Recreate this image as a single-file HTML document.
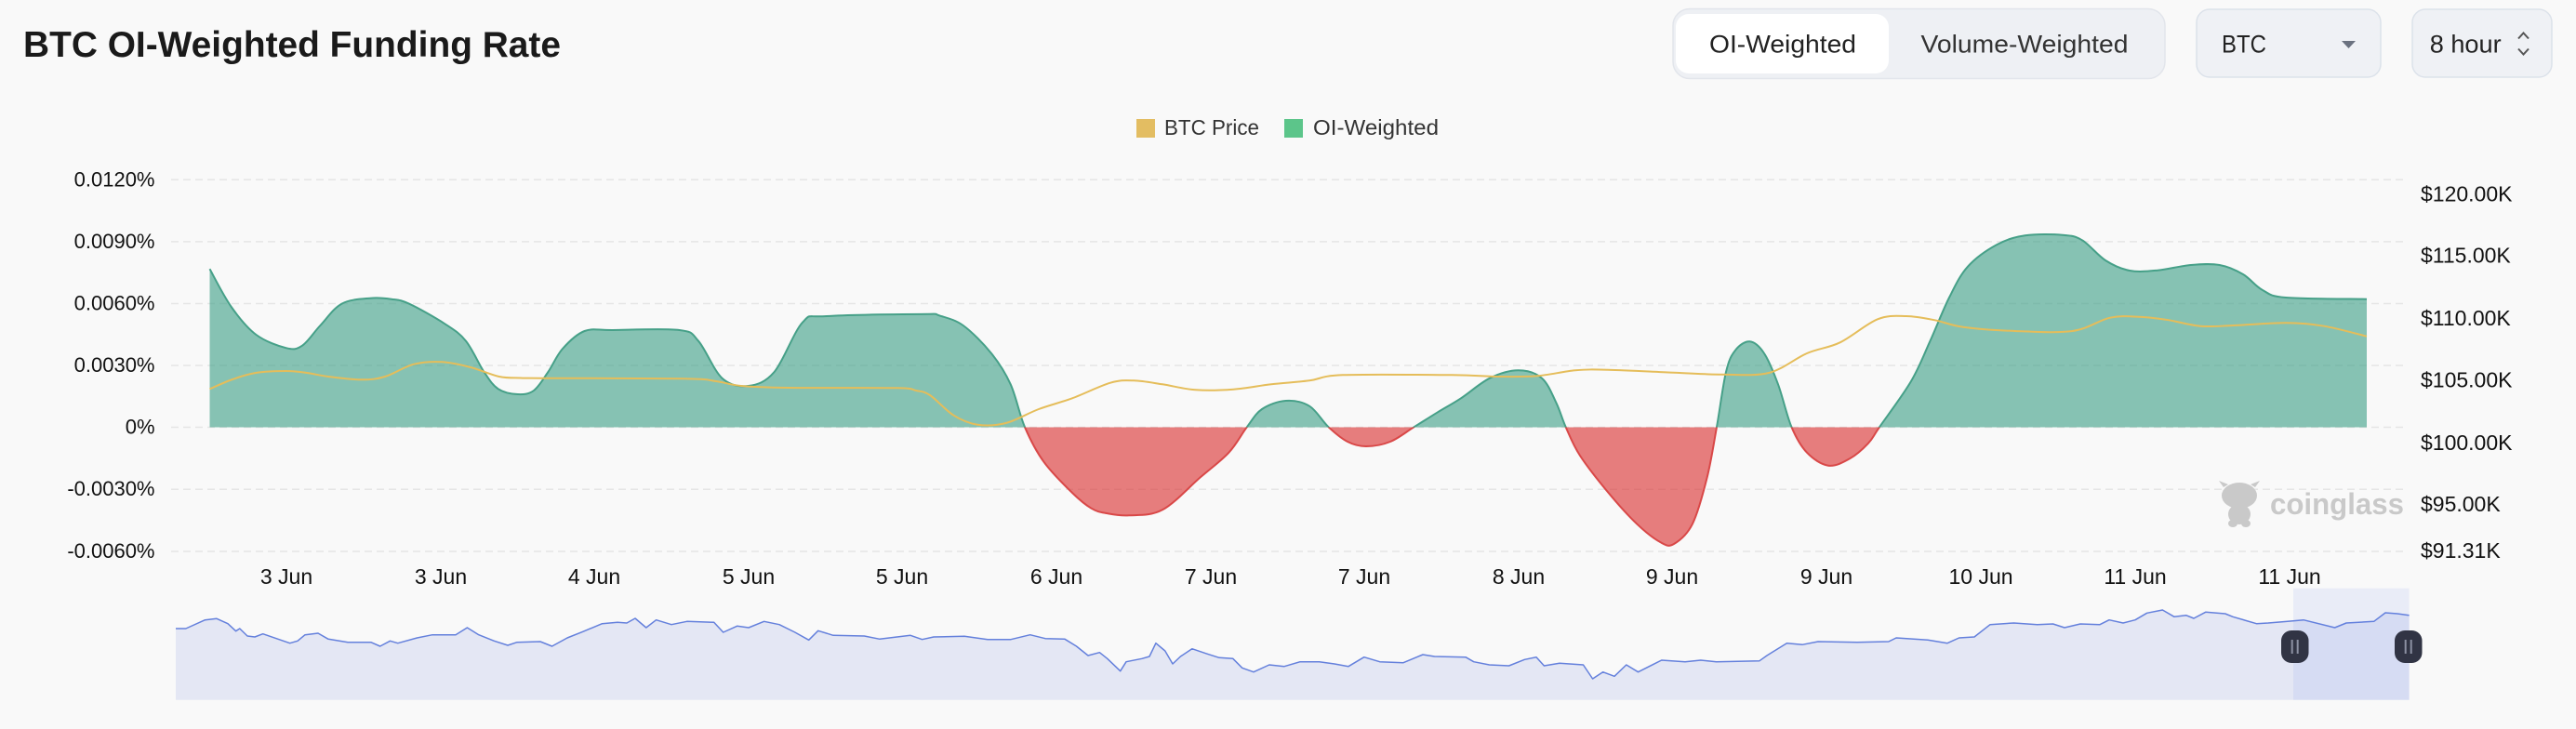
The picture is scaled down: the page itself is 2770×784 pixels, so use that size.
<!DOCTYPE html>
<html>
<head>
<meta charset="utf-8">
<style>
html,body{margin:0;padding:0;background:#f9f9f9;}
body{width:2770px;height:784px;overflow:hidden;}
svg{display:block;font-family:"Liberation Sans",Arial,sans-serif;}
</style>
</head>
<body>
<svg id="chart" width="2770" height="784" viewBox="0 0 2770 784" xmlns="http://www.w3.org/2000/svg">
<defs>
<clipPath id="pos"><rect x="0" y="0" width="2770" height="459.5"/></clipPath>
<clipPath id="neg"><rect x="0" y="459.5" width="2770" height="330"/></clipPath>
</defs>
<rect width="2770" height="784" fill="#f9f9f9"/>

<!-- Title -->
<text x="25" y="61" font-size="39" font-weight="bold" fill="#1a1a1a" textLength="578" lengthAdjust="spacingAndGlyphs">BTC OI-Weighted Funding Rate</text>

<!-- Segmented control -->
<rect x="1799" y="9.5" width="529" height="75" rx="18" fill="#eef0f4" stroke="#e2e5eb" stroke-width="1.5"/>
<rect x="1802" y="15" width="229" height="64" rx="14" fill="#ffffff"/>
<text x="1838" y="56.5" font-size="27" fill="#222" textLength="158" lengthAdjust="spacingAndGlyphs">OI-Weighted</text>
<text x="2065.5" y="56.5" font-size="27" fill="#333" textLength="223" lengthAdjust="spacingAndGlyphs">Volume-Weighted</text>

<!-- BTC select -->
<rect x="2362" y="10" width="198" height="73" rx="14" fill="#eff1f5" stroke="#dce2ea" stroke-width="1.5"/>
<text x="2389" y="56.5" font-size="27" fill="#222" textLength="48" lengthAdjust="spacingAndGlyphs">BTC</text>
<polygon points="2518,44 2533,44 2525.5,52" fill="#6b7280"/>

<!-- 8 hour select -->
<rect x="2594" y="10" width="150" height="73" rx="14" fill="#eff1f5" stroke="#dce2ea" stroke-width="1.5"/>
<text x="2612.7" y="56.5" font-size="27" fill="#222" textLength="77" lengthAdjust="spacingAndGlyphs">8 hour</text>
<polyline points="2708,41.5 2713.5,35.5 2719,41.5" fill="none" stroke="#555" stroke-width="2"/>
<polyline points="2708,52.5 2713.5,58.5 2719,52.5" fill="none" stroke="#555" stroke-width="2"/>

<!-- Legend -->
<rect x="1222" y="128" width="20" height="20" fill="#e3bd62"/>
<text x="1252" y="145" font-size="23" fill="#333" textLength="102" lengthAdjust="spacingAndGlyphs">BTC Price</text>
<rect x="1381" y="128" width="20" height="20" fill="#5cc58a"/>
<text x="1412" y="145" font-size="23" fill="#333" textLength="135" lengthAdjust="spacingAndGlyphs">OI-Weighted</text>

<!-- Grid lines -->
<g stroke="#e5e5e5" stroke-width="1.5" stroke-dasharray="8 5">
<line x1="184" y1="193.3" x2="2586" y2="193.3"/>
<line x1="184" y1="259.9" x2="2586" y2="259.9"/>
<line x1="184" y1="326.5" x2="2586" y2="326.5"/>
<line x1="184" y1="393" x2="2586" y2="393"/>
<line x1="184" y1="459.5" x2="2586" y2="459.5"/>
<line x1="184" y1="526.2" x2="2586" y2="526.2"/>
<line x1="184" y1="593" x2="2586" y2="593"/>
</g>

<!-- Left axis labels -->
<g font-size="22" fill="#111" text-anchor="end">
<text x="166.5" y="200.3">0.0120%</text>
<text x="166.5" y="266.9">0.0090%</text>
<text x="166.5" y="333.5">0.0060%</text>
<text x="166.5" y="400">0.0030%</text>
<text x="166.5" y="466.5">0%</text>
<text x="166.5" y="533.2">-0.0030%</text>
<text x="166.5" y="600">-0.0060%</text>
</g>

<!-- Right axis labels -->
<g font-size="23" fill="#111">
<text x="2603" y="216.7">$120.00K</text>
<text x="2603" y="282.7">$115.00K</text>
<text x="2603" y="350">$110.00K</text>
<text x="2603" y="416.7">$105.00K</text>
<text x="2603" y="484">$100.00K</text>
<text x="2603" y="550">$95.00K</text>
<text x="2603" y="600">$91.31K</text>
</g>

<!-- Watermark -->
<g fill="#c9c9c9">
<ellipse cx="2408" cy="533" rx="19" ry="14"/>
<path d="M2391,524 L2386,517 L2396,521 Z M2425,524 L2430,517 L2420,521 Z"/>
<ellipse cx="2408" cy="553" rx="12" ry="11"/>
<ellipse cx="2401" cy="563" rx="5" ry="4"/>
<ellipse cx="2415" cy="563" rx="5" ry="4"/>
<text x="2441" y="553" font-size="32" font-weight="bold" textLength="144" lengthAdjust="spacingAndGlyphs">coinglass</text>
</g>

<!-- Funding area -->
<g id="fundA">
<polygon class="sm" clip-path="url(#pos)" fill="#389c84" fill-opacity="0.6" points="225.5,459.5 225.5,289.3 248.7,330 275.5,360 308,374.3 325,371.7 344.4,350 367.4,326.7 398,320.7 421,321.7 440,326.7 478.4,348.3 501,366.7 520.5,400 535.8,418.3 556.8,424 574,420 589.4,400 605,375 628.6,356 659,355 730.6,355 751,366.7 776.5,406.7 804.6,415 832.6,400 863,346.7 889,340 1000,337.7 1010,339.3 1035.7,350 1066,380 1086.7,413.3 1102,459.3 1122.4,496.7 1153,530 1173.5,546.7 1190,552 1214,554.3 1250,548.3 1290.8,513.3 1321.4,486.7 1340.8,459.3 1357,440 1382.6,431 1408,436.7 1428.6,459.3 1449,475 1469,480 1495,475 1520.4,459.3 1546,443.3 1571,428.3 1602,406.7 1632.6,398.3 1658,406.7 1673.5,433.3 1683.7,459.3 1699,490 1729.6,530 1760,563.3 1785.7,583.3 1800,585 1820,563.3 1835.7,513.3 1846,459.3 1856,400 1866,376.7 1881.6,367.3 1897,380 1912,413.3 1926.5,459.3 1943,486.7 1966,500.7 1989,493.3 2009,476.7 2021,459.3 2055,410 2075.5,366.7 2096,320 2116,286.7 2147,263.3 2177.5,253.3 2218,252.7 2239,258.3 2264,280 2290,291 2320,290.7 2356,285 2386.7,285 2412,295 2432.6,311.7 2458,320 2545,321.7 2545,459.5"/>
<polygon class="sm" clip-path="url(#neg)" fill="#d92a2a" fill-opacity="0.6" points="225.5,459.5 225.5,289.3 248.7,330 275.5,360 308,374.3 325,371.7 344.4,350 367.4,326.7 398,320.7 421,321.7 440,326.7 478.4,348.3 501,366.7 520.5,400 535.8,418.3 556.8,424 574,420 589.4,400 605,375 628.6,356 659,355 730.6,355 751,366.7 776.5,406.7 804.6,415 832.6,400 863,346.7 889,340 1000,337.7 1010,339.3 1035.7,350 1066,380 1086.7,413.3 1102,459.3 1122.4,496.7 1153,530 1173.5,546.7 1190,552 1214,554.3 1250,548.3 1290.8,513.3 1321.4,486.7 1340.8,459.3 1357,440 1382.6,431 1408,436.7 1428.6,459.3 1449,475 1469,480 1495,475 1520.4,459.3 1546,443.3 1571,428.3 1602,406.7 1632.6,398.3 1658,406.7 1673.5,433.3 1683.7,459.3 1699,490 1729.6,530 1760,563.3 1785.7,583.3 1800,585 1820,563.3 1835.7,513.3 1846,459.3 1856,400 1866,376.7 1881.6,367.3 1897,380 1912,413.3 1926.5,459.3 1943,486.7 1966,500.7 1989,493.3 2009,476.7 2021,459.3 2055,410 2075.5,366.7 2096,320 2116,286.7 2147,263.3 2177.5,253.3 2218,252.7 2239,258.3 2264,280 2290,291 2320,290.7 2356,285 2386.7,285 2412,295 2432.6,311.7 2458,320 2545,321.7 2545,459.5"/>
<polyline class="sm" clip-path="url(#pos)" fill="none" stroke="#46a088" stroke-width="2" stroke-linejoin="round" points="225.5,289.3 248.7,330 275.5,360 308,374.3 325,371.7 344.4,350 367.4,326.7 398,320.7 421,321.7 440,326.7 478.4,348.3 501,366.7 520.5,400 535.8,418.3 556.8,424 574,420 589.4,400 605,375 628.6,356 659,355 730.6,355 751,366.7 776.5,406.7 804.6,415 832.6,400 863,346.7 889,340 1000,337.7 1010,339.3 1035.7,350 1066,380 1086.7,413.3 1102,459.3 1122.4,496.7 1153,530 1173.5,546.7 1190,552 1214,554.3 1250,548.3 1290.8,513.3 1321.4,486.7 1340.8,459.3 1357,440 1382.6,431 1408,436.7 1428.6,459.3 1449,475 1469,480 1495,475 1520.4,459.3 1546,443.3 1571,428.3 1602,406.7 1632.6,398.3 1658,406.7 1673.5,433.3 1683.7,459.3 1699,490 1729.6,530 1760,563.3 1785.7,583.3 1800,585 1820,563.3 1835.7,513.3 1846,459.3 1856,400 1866,376.7 1881.6,367.3 1897,380 1912,413.3 1926.5,459.3 1943,486.7 1966,500.7 1989,493.3 2009,476.7 2021,459.3 2055,410 2075.5,366.7 2096,320 2116,286.7 2147,263.3 2177.5,253.3 2218,252.7 2239,258.3 2264,280 2290,291 2320,290.7 2356,285 2386.7,285 2412,295 2432.6,311.7 2458,320 2545,321.7"/>
<polyline class="sm" clip-path="url(#neg)" fill="none" stroke="#d94848" stroke-width="2" stroke-linejoin="round" points="225.5,289.3 248.7,330 275.5,360 308,374.3 325,371.7 344.4,350 367.4,326.7 398,320.7 421,321.7 440,326.7 478.4,348.3 501,366.7 520.5,400 535.8,418.3 556.8,424 574,420 589.4,400 605,375 628.6,356 659,355 730.6,355 751,366.7 776.5,406.7 804.6,415 832.6,400 863,346.7 889,340 1000,337.7 1010,339.3 1035.7,350 1066,380 1086.7,413.3 1102,459.3 1122.4,496.7 1153,530 1173.5,546.7 1190,552 1214,554.3 1250,548.3 1290.8,513.3 1321.4,486.7 1340.8,459.3 1357,440 1382.6,431 1408,436.7 1428.6,459.3 1449,475 1469,480 1495,475 1520.4,459.3 1546,443.3 1571,428.3 1602,406.7 1632.6,398.3 1658,406.7 1673.5,433.3 1683.7,459.3 1699,490 1729.6,530 1760,563.3 1785.7,583.3 1800,585 1820,563.3 1835.7,513.3 1846,459.3 1856,400 1866,376.7 1881.6,367.3 1897,380 1912,413.3 1926.5,459.3 1943,486.7 1966,500.7 1989,493.3 2009,476.7 2021,459.3 2055,410 2075.5,366.7 2096,320 2116,286.7 2147,263.3 2177.5,253.3 2218,252.7 2239,258.3 2264,280 2290,291 2320,290.7 2356,285 2386.7,285 2412,295 2432.6,311.7 2458,320 2545,321.7"/>
</g>

<!-- BTC price line -->
<polyline class="sm" fill="none" stroke="#e5bd5a" stroke-width="2" stroke-linejoin="round" points="225.5,418.3 250,408 275,401 308,399 330,401 353,405 389,408.3 414,405 445,391.7 475.5,389.3 506,395 536.7,405 560,406.5 582.6,406.7 735.7,407.3 770,410 797,415 848,417 965,417.3 985,420 1000,425 1025.5,446.7 1051,456.7 1081.6,455 1117,440 1153,428.3 1194,411.7 1219,409.3 1250,413.3 1285.7,419.3 1326.5,418.7 1367,413.3 1408,409.3 1444,403.3 1561,403.3 1612,405 1653,404.3 1694,398.3 1729.6,397.7 1800,400.7 1851,402.7 1902,401 1943,380 1978.6,368.3 2019,343.3 2050,340 2080.6,344.3 2111,351.7 2167,356 2228.6,356 2269,341.7 2300,340.7 2330.6,344 2366,350.7 2402,350 2458,347.3 2499,350.7 2545,361.7"/>

<!-- X axis labels -->
<g font-size="23" fill="#111" text-anchor="middle">
<text x="308" y="628">3 Jun</text>
<text x="474" y="628">3 Jun</text>
<text x="639" y="628">4 Jun</text>
<text x="805" y="628">5 Jun</text>
<text x="970" y="628">5 Jun</text>
<text x="1136" y="628">6 Jun</text>
<text x="1302" y="628">7 Jun</text>
<text x="1467" y="628">7 Jun</text>
<text x="1633" y="628">8 Jun</text>
<text x="1798" y="628">9 Jun</text>
<text x="1964" y="628">9 Jun</text>
<text x="2130" y="628">10 Jun</text>
<text x="2296" y="628">11 Jun</text>
<text x="2462" y="628">11 Jun</text>
</g>

<!-- Minimap -->
<polygon fill="#e4e7f4" points="189,752.7 189,676 199.8,676 220.5,666.7 233,665.3 245,670.7 253.6,678.7 257.8,676 266,684 274,685 282.7,681.7 299,687.3 311.7,691.7 320,689.3 328,682.7 342,681 353,687.3 374,690.7 398.8,690.7 408.7,695 419.5,689.3 427.8,691.7 448.5,686 465,682.7 490,682.7 502.4,675 514.8,682.7 531.4,689.3 546,694 556,690.7 581,690 593.6,695 610,686 626.8,679.3 647.5,670.7 664,669.3 674,670 683,665 694.8,675 705.6,666.7 722,671.7 738.7,668.3 767.7,669.3 777.7,680 792.6,673.3 805,675 821.6,668.3 838,671.7 854.8,680 869.7,688.3 879.7,678.3 896,683.3 929.4,684 946,687.3 979,683.3 991.6,687.7 1004,685 1037,684.3 1062,687.7 1087,687.7 1107.7,682.7 1124,686.7 1145,687.3 1157.5,695 1170,705 1182.4,701.7 1190.7,708.3 1204.7,721.7 1211,711.7 1228,708.3 1236,706 1242.9,691.7 1252.8,700 1261,714 1269.4,706 1281.8,697.7 1298.4,703.3 1311,707.3 1325.8,708.3 1335.7,718.3 1348,722.7 1364.8,715 1381,716.7 1398,711.7 1418.7,711.7 1435,714 1450,716.7 1466.8,706.7 1483.7,711.7 1509,712.7 1530,704 1542.6,706 1576,706.7 1584.7,711.7 1601.5,715 1622.6,716 1639.4,709.3 1652,706.7 1660.4,716 1677,713.3 1702.5,715 1712.6,730 1723.6,722.7 1736,727.3 1748.8,715 1761.5,722.7 1786.7,710 1812,711.7 1828.8,710 1845.6,711.7 1892,710.7 1900,705 1921.4,691.7 1938,693.3 1955,690 1997,690.7 2030.8,690 2039,686 2073,688.3 2094,691.7 2106.6,686 2123,685 2140,671.7 2165.5,670 2190.7,671.7 2207.6,671 2220,675 2237,671 2258,671.7 2268,666.7 2283,670 2296,666.7 2308.6,659.3 2325.4,656 2338,663.3 2350.7,661.7 2359,665 2371.7,658.3 2392.8,660 2401,663.3 2426.4,670.7 2439,670 2460,668.3 2477,666.7 2510.6,675 2523,670 2552.7,668.3 2565,659 2578,660 2590.6,661.7 2590.6,752.7"/>
<polyline fill="none" stroke="#6480dc" stroke-width="1.5" stroke-linejoin="round" points="189,676 199.8,676 220.5,666.7 233,665.3 245,670.7 253.6,678.7 257.8,676 266,684 274,685 282.7,681.7 299,687.3 311.7,691.7 320,689.3 328,682.7 342,681 353,687.3 374,690.7 398.8,690.7 408.7,695 419.5,689.3 427.8,691.7 448.5,686 465,682.7 490,682.7 502.4,675 514.8,682.7 531.4,689.3 546,694 556,690.7 581,690 593.6,695 610,686 626.8,679.3 647.5,670.7 664,669.3 674,670 683,665 694.8,675 705.6,666.7 722,671.7 738.7,668.3 767.7,669.3 777.7,680 792.6,673.3 805,675 821.6,668.3 838,671.7 854.8,680 869.7,688.3 879.7,678.3 896,683.3 929.4,684 946,687.3 979,683.3 991.6,687.7 1004,685 1037,684.3 1062,687.7 1087,687.7 1107.7,682.7 1124,686.7 1145,687.3 1157.5,695 1170,705 1182.4,701.7 1190.7,708.3 1204.7,721.7 1211,711.7 1228,708.3 1236,706 1242.9,691.7 1252.8,700 1261,714 1269.4,706 1281.8,697.7 1298.4,703.3 1311,707.3 1325.8,708.3 1335.7,718.3 1348,722.7 1364.8,715 1381,716.7 1398,711.7 1418.7,711.7 1435,714 1450,716.7 1466.8,706.7 1483.7,711.7 1509,712.7 1530,704 1542.6,706 1576,706.7 1584.7,711.7 1601.5,715 1622.6,716 1639.4,709.3 1652,706.7 1660.4,716 1677,713.3 1702.5,715 1712.6,730 1723.6,722.7 1736,727.3 1748.8,715 1761.5,722.7 1786.7,710 1812,711.7 1828.8,710 1845.6,711.7 1892,710.7 1900,705 1921.4,691.7 1938,693.3 1955,690 1997,690.7 2030.8,690 2039,686 2073,688.3 2094,691.7 2106.6,686 2123,685 2140,671.7 2165.5,670 2190.7,671.7 2207.6,671 2220,675 2237,671 2258,671.7 2268,666.7 2283,670 2296,666.7 2308.6,659.3 2325.4,656 2338,663.3 2350.7,661.7 2359,665 2371.7,658.3 2392.8,660 2401,663.3 2426.4,670.7 2439,670 2460,668.3 2477,666.7 2510.6,675 2523,670 2552.7,668.3 2565,659 2578,660 2590.6,661.7"/>
<rect x="2466" y="632.7" width="124.6" height="120" fill="#6482f0" fill-opacity="0.1"/>
<rect x="2453" y="678" width="29.5" height="35" rx="11" fill="#313444"/>
<rect x="2575" y="678" width="29.5" height="35" rx="11" fill="#313444"/>
<g stroke="#8c91a3" stroke-width="2">
<line x1="2464.7" y1="688" x2="2464.7" y2="703"/>
<line x1="2470.7" y1="688" x2="2470.7" y2="703"/>
<line x1="2586.7" y1="688" x2="2586.7" y2="703"/>
<line x1="2592.7" y1="688" x2="2592.7" y2="703"/>
</g>
</svg>
<script>
(function(){
  var NS="http://www.w3.org/2000/svg";
  function parse(s){
    var a=s.trim().split(/\s+/),r=[];
    for(var i=0;i<a.length;i++){var p=a[i].split(",");r.push([+p[0],+p[1]]);}
    return r;
  }
  function f(n){return Math.round(n*100)/100;}
  function curve(p){
    var d="";
    for(var i=0;i<p.length-1;i++){
      var p0=p[i>0?i-1:i],p1=p[i],p2=p[i+1],p3=p[i+2<p.length?i+2:i+1];
      var t=0.5/3;
      var c1x=p1[0]+(p2[0]-p0[0])*t,c1y=p1[1]+(p2[1]-p0[1])*t;
      var c2x=p2[0]-(p3[0]-p1[0])*t,c2y=p2[1]-(p3[1]-p1[1])*t;
      if(c1x<p1[0])c1x=p1[0]; if(c1x>p2[0])c1x=p2[0];
      if(c2x<p1[0])c2x=p1[0]; if(c2x>p2[0])c2x=p2[0];
      d+=" C"+f(c1x)+","+f(c1y)+" "+f(c2x)+","+f(c2y)+" "+f(p2[0])+","+f(p2[1]);
    }
    return d;
  }
  try{
    var els=document.querySelectorAll(".sm");
    for(var k=0;k<els.length;k++){
      var el=els[k],pts=parse(el.getAttribute("points")),d;
      var isPoly=el.tagName.toLowerCase()==="polygon";
      if(isPoly){
        var inner=pts.slice(1,pts.length-1);
        d="M"+pts[0][0]+","+pts[0][1]+" L"+inner[0][0]+","+inner[0][1]+curve(inner)+" L"+pts[pts.length-1][0]+","+pts[pts.length-1][1]+" Z";
      }else{
        d="M"+pts[0][0]+","+pts[0][1]+curve(pts);
      }
      var path=document.createElementNS(NS,"path");
      for(var j=0;j<el.attributes.length;j++){
        var at=el.attributes[j];
        if(at.name!=="points"&&at.name!=="class")path.setAttribute(at.name,at.value);
      }
      path.setAttribute("d",d);
      el.parentNode.replaceChild(path,el);
    }
  }catch(e){}
})();
</script>
</body>
</html>
